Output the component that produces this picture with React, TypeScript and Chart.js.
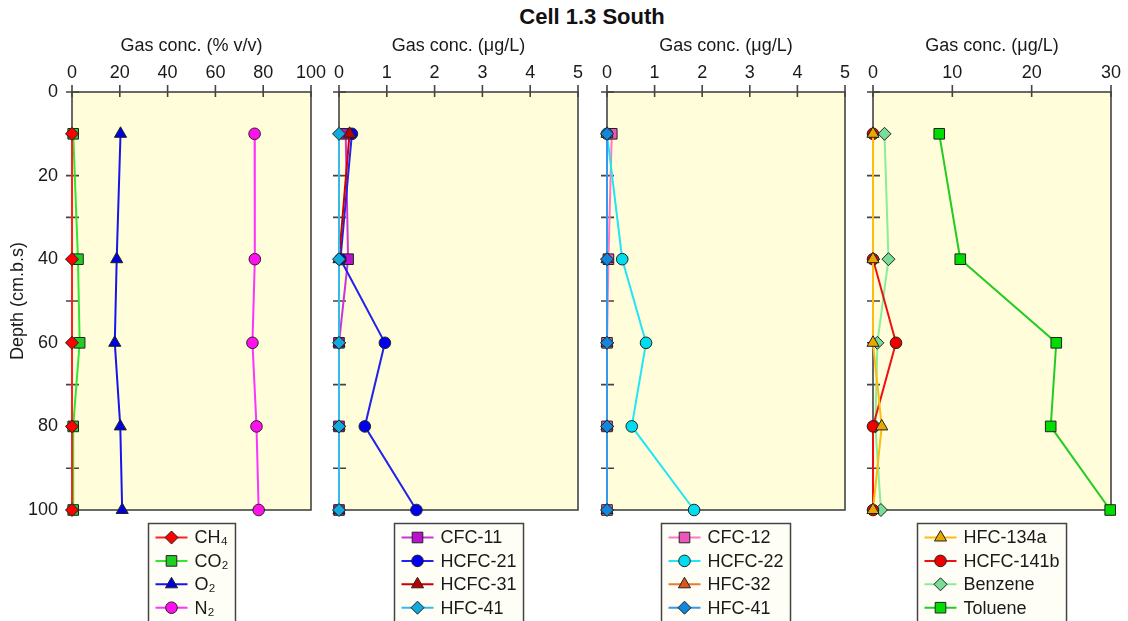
import React, { useEffect, useRef } from 'react';
import { Chart, registerables } from 'chart.js';
import { drawPoint } from 'chart.js/helpers';

Chart.register(...registerables);

const FONT = "'Liberation Sans', Arial, Helvetica, sans-serif";
Chart.defaults.font.family = FONT;
Chart.defaults.font.size = 18;
Chart.defaults.color = '#1a1a1a';

// ---- data ----
const depths = [10, 40, 60, 80, 100];

// panel 1 (% v/v)
const ch4 = [0, 0, 0, 0, 0];
const co2 = [0.5, 2.5, 3.2, 0.5, 0.5];
const o2 = [20.3, 18.7, 17.9, 20.2, 21.0];
const n2 = [76.4, 76.5, 75.5, 77.2, 78.1];

// panel 2 (ug/L)
const cfc11 = [0.14, 0.19, 0, 0, 0];
const hcfc21 = [0.27, 0.03, 0.96, 0.54, 1.62];
const hcfc31 = [0.22, 0, 0, 0, 0];
const hfc41a = [0, 0, 0, 0, 0];

// panel 3 (ug/L)
const cfc12 = [0.1, 0.03, 0, 0, 0];
const hcfc22 = [0, 0.32, 0.82, 0.52, 1.83];
const hfc32 = [0, 0, 0, 0, 0];
const hfc41b = [0, 0, 0, 0, 0];

// panel 4 (ug/L)
const hfc134a = [0, 0, 0, 1.1, 0];
const hcfc141b = [0, 0, 2.9, 0, 0];
const benzene = [1.45, 1.95, 0.55, 0.3, 1.0];
const toluene = [8.35, 11.0, 23.1, 22.4, 29.9];

const titleText = 'Cell 1.3 South';
const yTitle = 'Depth (cm.b.s)';
const xTitle1 = 'Gas conc. (% v/v)';
const xTitle2 = 'Gas conc. (\u03BCg/L)';

const BG = '#FFFDDA';
const AXIS = '#444444';
const LEGEND_BG = '#FEFEF7';

type Series = {
  label: string;
  values: number[];
  line: string;
  fill: string;
  style: string;
  radius: number;
};

type Panel = {
  left: number;
  width: number;
  yWidth: number;
  padRight: number;
  xMax: number;
  xStep: number;
  xTitle: string;
  showY: boolean;
  lastOnTop: boolean;
  series: Series[];
};

const panels: Panel[] = [
  {
    left: 0, width: 330, yWidth: 72, padRight: 19, xMax: 100, xStep: 20, xTitle: xTitle1, showY: true, lastOnTop: false,
    series: [
      { label: 'CH\u2084', values: ch4, line: '#FF2020', fill: '#FF0000', style: 'rectRot', radius: 6.5 },
      { label: 'CO\u2082', values: co2, line: '#33E633', fill: '#22CC22', style: 'rect', radius: 7.5 },
      { label: 'O\u2082', values: o2, line: '#1515EE', fill: '#0000DD', style: 'triangle', radius: 7 },
      { label: 'N\u2082', values: n2, line: '#FF33FF', fill: '#FF11EE', style: 'circle', radius: 5.8 },
    ],
  },
  {
    left: 330, width: 267, yWidth: 9, padRight: 19, xMax: 5, xStep: 1, xTitle: xTitle2, showY: false, lastOnTop: true,
    series: [
      { label: 'CFC-11', values: cfc11, line: '#CC33DD', fill: '#BB11CC', style: 'rect', radius: 7.5 },
      { label: 'HCFC-21', values: hcfc21, line: '#2222EE', fill: '#0000EE', style: 'circle', radius: 5.8 },
      { label: 'HCFC-31', values: hcfc31, line: '#CC0000', fill: '#BB0000', style: 'triangle', radius: 7 },
      { label: 'HFC-41', values: hfc41a, line: '#33BBEE', fill: '#11AADD', style: 'rectRot', radius: 6.5 },
    ],
  },
  {
    left: 597, width: 265, yWidth: 10, padRight: 17, xMax: 5, xStep: 1, xTitle: xTitle2, showY: false, lastOnTop: true,
    series: [
      { label: 'CFC-12', values: cfc12, line: '#FF77CC', fill: '#EE55BB', style: 'rect', radius: 7.5 },
      { label: 'HCFC-22', values: hcfc22, line: '#22E5F5', fill: '#00DDEE', style: 'circle', radius: 5.8 },
      { label: 'HFC-32', values: hfc32, line: '#EE7733', fill: '#DD5511', style: 'triangle', radius: 7 },
      { label: 'HFC-41', values: hfc41b, line: '#3399EE', fill: '#1188DD', style: 'rectRot', radius: 6.5 },
    ],
  },
  {
    left: 862, width: 266, yWidth: 11, padRight: 17, xMax: 30, xStep: 10, xTitle: xTitle2, showY: false, lastOnTop: false,
    series: [
      { label: 'HFC-134a', values: hfc134a, line: '#FFBB11', fill: '#E8A800', style: 'triangle', radius: 7 },
      { label: 'HCFC-141b', values: hcfc141b, line: '#EE1111', fill: '#EE0000', style: 'circle', radius: 5.8 },
      { label: 'Benzene', values: benzene, line: '#88EE99', fill: '#77DD99', style: 'rectRot', radius: 6.5 },
      { label: 'Toluene', values: toluene, line: '#22CC22', fill: '#00DD00', style: 'rect', radius: 7.5 },
    ],
  },
];

const HEIGHT = 621;

const framePlugin = {
  id: 'panelFrame',
  beforeDraw(chart: any) {
    const { ctx, chartArea: a } = chart;
    ctx.save();
    ctx.fillStyle = BG;
    ctx.fillRect(a.left, a.top, a.right - a.left, a.bottom - a.top);
    ctx.restore();
  },
  beforeDatasetsDraw(chart: any) {
    const { ctx, chartArea: a, scales } = chart;
    ctx.save();
    ctx.strokeStyle = AXIS;
    ctx.lineWidth = 1.6;
    ctx.strokeRect(a.left, a.top, a.right - a.left, a.bottom - a.top);
    ctx.beginPath();
    scales.x.ticks.forEach((t: any) => {
      const px = scales.x.getPixelForValue(t.value);
      ctx.moveTo(px, a.top - 7);
      ctx.lineTo(px, a.top + 5);
    });
    scales.y.ticks.forEach((t: any) => {
      const py = scales.y.getPixelForValue(t.value);
      ctx.moveTo(a.left - 6, py);
      ctx.lineTo(a.left + 7, py);
    });
    ctx.stroke();
    ctx.restore();
  },
  afterDraw(chart: any) {
    const { ctx, chartArea: a } = chart;
    const ds = chart.data.datasets;
    ctx.save();
    ctx.font = `18px ${FONT}`;
    let maxW = 0;
    ds.forEach((d: any) => {
      maxW = Math.max(maxW, ctx.measureText(d.label).width);
    });
    const boxW = 46 + maxW + 7;
    const cx = (a.left + a.right) / 2;
    const left = Math.round(cx - boxW / 2) + 0.5;
    const top = a.bottom + 13.5;
    const boxH = HEIGHT - 1 - top;
    ctx.fillStyle = LEGEND_BG;
    ctx.fillRect(left, top, boxW, boxH);
    ctx.strokeStyle = AXIS;
    ctx.lineWidth = 1.5;
    ctx.strokeRect(left, top, boxW, boxH + 5);
    ds.forEach((d: any, i: number) => {
      const y = top + 14 + i * 23.4;
      ctx.beginPath();
      ctx.strokeStyle = d.borderColor;
      ctx.lineWidth = 2;
      ctx.moveTo(left + 7, y);
      ctx.lineTo(left + 39, y);
      ctx.stroke();
      ctx.fillStyle = d.pointBackgroundColor;
      ctx.strokeStyle = '#222222';
      ctx.lineWidth = 1;
      drawPoint(ctx, { pointStyle: d.pointStyle, radius: d.pointRadius, borderWidth: 1, rotation: 0 } as any, left + 23, y);
      ctx.fillStyle = '#1a1a1a';
      ctx.textBaseline = 'middle';
      ctx.textAlign = 'left';
      ctx.fillText(d.label, left + 46, y + 1);
    });
    ctx.restore();
  },
};

function PanelChart({ panel }: { panel: Panel }) {
  const ref = useRef<HTMLCanvasElement | null>(null);
  useEffect(() => {
    if (!ref.current) return;
    const n = panel.series.length;
    const chart = new Chart(ref.current, {
      type: 'line',
      data: {
        datasets: panel.series.map((s, i) => ({
          label: s.label,
          data: depths.map((d, k) => ({ x: s.values[k], y: d })),
          borderColor: s.line,
          backgroundColor: s.fill,
          pointBackgroundColor: s.fill,
          pointBorderColor: '#222222',
          pointBorderWidth: 1,
          pointStyle: s.style as any,
          pointRadius: s.radius,
          borderWidth: 2,
          tension: 0,
          fill: false,
          clip: false as any,
          order: panel.lastOnTop ? n - 1 - i : i,
        })),
      },
      options: {
        animation: false,
        responsive: false,
        maintainAspectRatio: false,
        layout: { padding: { left: 0, right: panel.padRight, top: 0, bottom: HEIGHT - 510 } },
        plugins: {
          legend: { display: false },
          tooltip: { enabled: false },
          title: { display: false },
        },
        scales: {
          x: {
            type: 'linear',
            position: 'top',
            min: 0,
            max: panel.xMax,
            grid: { display: false, drawTicks: false },
            border: { display: false },
            ticks: { stepSize: panel.xStep, padding: 8, maxRotation: 0, font: { size: 18 } },
            title: { display: true, text: panel.xTitle, font: { size: 18 }, padding: { top: 35, bottom: 0 } },
            afterFit: (s: any) => {
              s.height = 92;
              s.paddingLeft = 0;
              s.paddingRight = 0;
            },
          },
          y: {
            type: 'linear',
            position: 'left',
            reverse: true,
            min: 0,
            max: 100,
            grid: { display: false, drawTicks: false },
            border: { display: false },
            ticks: {
              display: panel.showY,
              stepSize: 10,
              padding: 14,
              font: { size: 18 },
              callback: (v: any) => (Number(v) % 20 === 0 ? String(v) : ''),
            },
            title: { display: panel.showY, text: yTitle, font: { size: 18 }, padding: { top: 7, bottom: 0 } },
            afterFit: (s: any) => {
              s.width = panel.yWidth;
              s.paddingTop = 0;
              s.paddingBottom = 0;
            },
          },
        },
      },
      plugins: [framePlugin],
    });
    return () => chart.destroy();
  }, [panel]);
  return (
    <canvas
      ref={ref}
      width={panel.width}
      height={HEIGHT}
      style={{ position: 'absolute', left: panel.left, top: 0, width: panel.width, height: HEIGHT }}
    />
  );
}

export default function App() {
  return (
    <div style={{ position: 'fixed', left: 0, top: 0, width: 1128, height: HEIGHT, background: '#ffffff', overflow: 'hidden' }}>
      <div
        style={{
          position: 'absolute',
          left: 592,
          top: 6,
          transform: 'translateX(-50%)',
          fontFamily: FONT,
          fontWeight: 'bold',
          fontSize: 22,
          lineHeight: '22px',
          whiteSpace: 'nowrap',
          color: '#111',
        }}
      >
        {titleText}
      </div>
      {panels.map((p, i) => (
        <PanelChart key={i} panel={p} />
      ))}
    </div>
  );
}
